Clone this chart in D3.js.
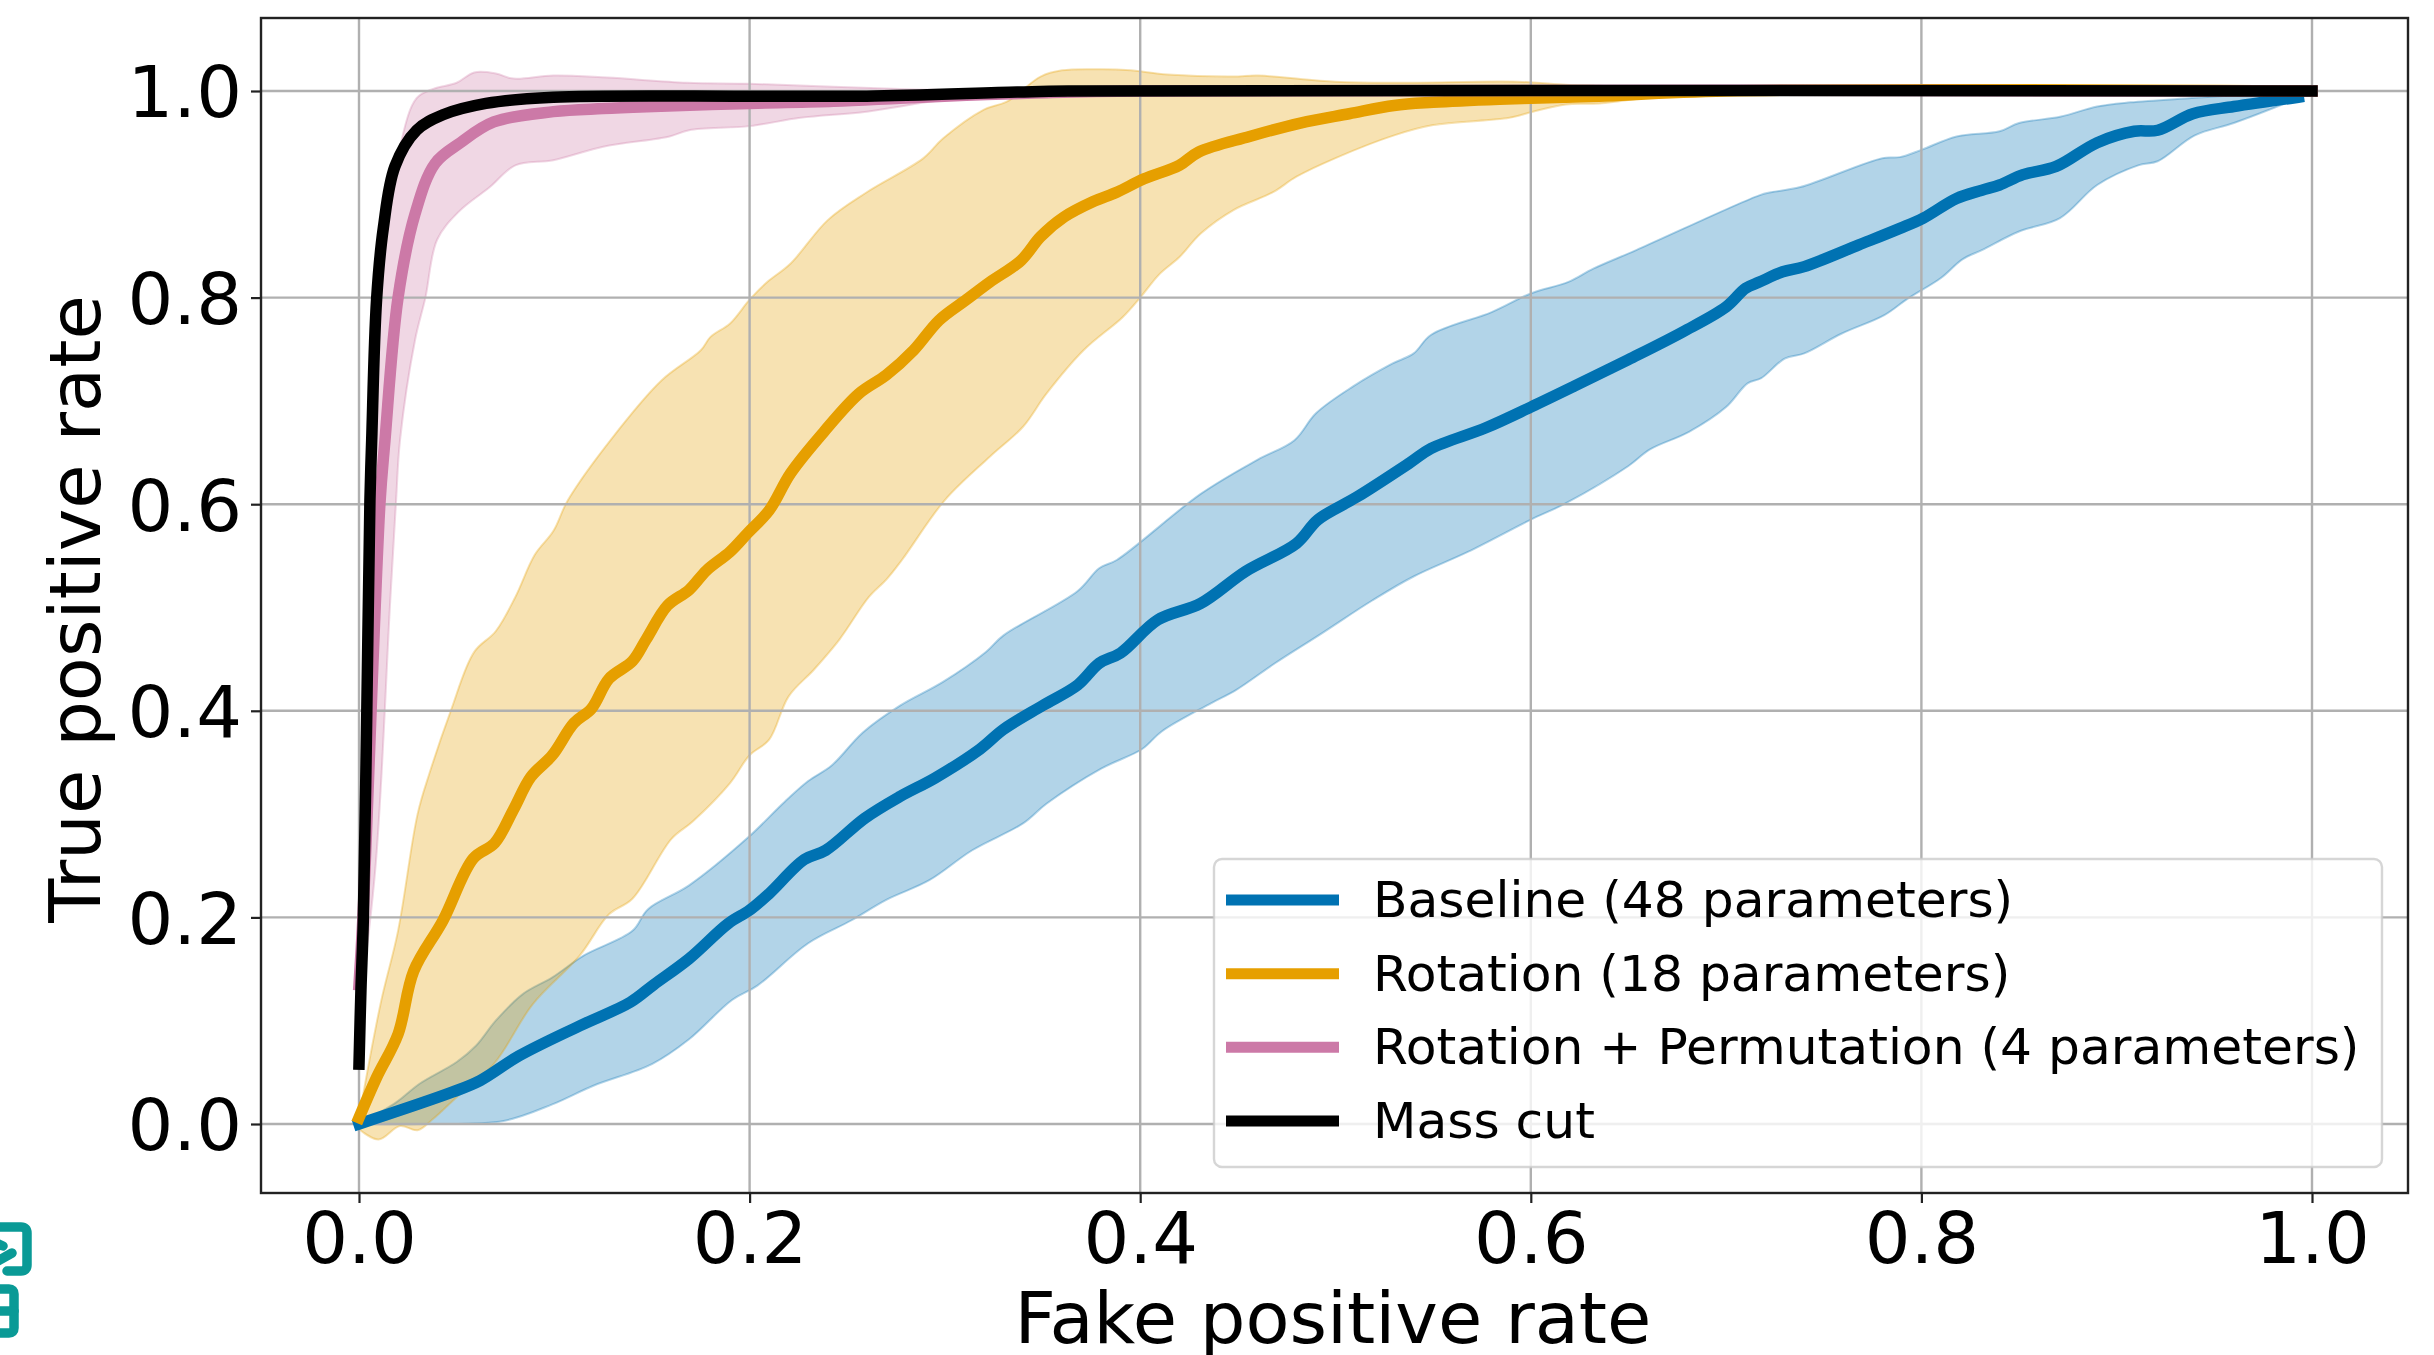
<!DOCTYPE html>
<html lang="en">
<head>
<meta charset="UTF-8">
<title>ROC curves</title>
<script src="https://d3js.org/d3.v7.min.js"></script>
<style>
    html, body { margin: 0; padding: 0; background: #fff; overflow: hidden; }
    svg { display: block; filter: blur(0.7px); }
    text { font-family: "DejaVu Sans", sans-serif; fill: #000; }
</style>
</head>
<body>
<div id="my_dataviz"></div>
<script>
// values, [fake positive rate, true positive rate]
var baselineMean = [[0,0],[.048,.031],[.062,.042],[.082,.066],[.113,.095],[.139,.118],[.151,.135],[.169,.160],[.189,.194],[.2,.207],[.21,.223],[.228,.256],[.239,.265],[.259,.296],[.277,.317],[.295,.335],[.318,.363],[.33,.382],[.35,.405],[.368,.425],[.379,.446],[.39,.456],[.409,.488],[.431,.504],[.454,.535],[.48,.562],[.491,.585],[.511,.607],[.538,.64],[.549,.654],[.577,.674],[.6,.694],[.622,.714],[.65,.74],[.678,.767],[.7,.791],[.71,.809],[.717,.815],[.729,.825],[.74,.83],[.768,.851],[.789,.867],[.801,.877],[.818,.896],[.831,.904],[.84,.909],[.852,.919],[.869,.927],[.89,.95],[.909,.961],[.921,.962],[.939,.978],[.96,.985],[.993,.994]];
var baselineUpper = [[0,0],[.019,.021],[.031,.039],[.05,.06],[.06,.076],[.07,.10],[.084,.126],[.099,.142],[.115,.163],[.14,.187],[.148,.208],[.169,.231],[.199,.277],[.218,.312],[.23,.332],[.242,.347],[.258,.379],[.277,.405],[.299,.428],[.321,.457],[.33,.473],[.368,.516],[.379,.538],[.388,.546],[.431,.61],[.46,.643],[.479,.662],[.49,.688],[.509,.714],[.529,.736],[.54,.746],[.549,.764],[.58,.786],[.6,.804],[.619,.815],[.632,.828],[.654,.846],[.717,.899],[.723,.902],[.738,.907],[.78,.935],[.789,.936],[.8,.943],[.818,.956],[.84,.961],[.85,.969],[.871,.975],[.89,.985],[.907,.989],[.937,.993],[.963,.996],[.993,.996]];
var baselineLower = [[0,0],[.034,0],[.074,.003],[.099,.019],[.12,.037],[.15,.058],[.169,.082],[.191,.12],[.204,.134],[.23,.175],[.252,.197],[.27,.217],[.292,.236],[.314,.265],[.34,.291],[.352,.31],[.38,.344],[.401,.363],[.411,.38],[.436,.407],[.449,.42],[.469,.446],[.493,.475],[.519,.507],[.54,.53],[.568,.554],[.6,.585],[.618,.601],[.65,.637],[.661,.653],[.681,.67],[.7,.694],[.711,.717],[.718,.722],[.73,.741],[.74,.746],[.759,.765],[.781,.783],[.793,.799],[.81,.819],[.821,.837],[.831,.846],[.85,.864],[.871,.877],[.89,.909],[.911,.928],[.921,.932],[.94,.957],[.96,.969],[.993,.993]];

var rotationMean = [[0,.006],[.009,.045],[.02,.087],[.028,.148],[.043,.197],[.0585,.257],[.0695,.272],[.079,.304],[.088,.336],[.099,.357],[.11,.388],[.119,.402],[.128,.431],[.14,.448],[.147,.469],[.158,.502],[.169,.517],[.178,.536],[.19,.554],[.199,.572],[.21,.594],[.221,.63],[.238,.67],[.256,.707],[.27,.725],[.284,.749],[.297,.778],[.311,.798],[.323,.815],[.339,.836],[.349,.859],[.361,.878],[.376,.893],[.388,.902],[.402,.915],[.42,.928],[.43,.941],[.456,.956],[.482,.969],[.507,.978],[.53,.986],[.55,.989],[.584,.992],[.618,.994],[.635,.995],[.7,1],[1,1]];
var rotationUpper = [[0,.006],[.011,.116],[.02,.187],[.03,.30],[.036,.339],[.047,.40],[.059,.457],[.07,.477],[.08,.51],[.09,.551],[.0995,.574],[.107,.604],[.13,.665],[.155,.72],[.175,.749],[.18,.762],[.19,.775],[.2,.798],[.209,.815],[.221,.833],[.24,.875],[.26,.902],[.289,.935],[.299,.954],[.32,.982],[.332,.99],[.349,1.014],[.36,1.02],[.38,1.021],[.395,1.02],[.414,1.016],[.448,1.014],[.46,1.015],[.5,1.009],[.533,1.008],[.593,1.009],[.618,1.006],[.635,1.005],[.67,1.001],[.7,1],[1,1]];
var rotationLower = [[0,-.005],[.01,-.015],[.021,-.002],[.03,-.006],[.038,.005],[.05,.026],[.069,.058],[.089,.116],[.113,.163],[.128,.203],[.14,.218],[.16,.276],[.171,.293],[.19,.33],[.2,.357],[.21,.372],[.22,.414],[.233,.44],[.246,.469],[.261,.51],[.27,.527],[.278,.546],[.3,.604],[.323,.646],[.34,.675],[.352,.707],[.371,.749],[.391,.781],[.4,.8],[.41,.823],[.42,.839],[.431,.862],[.448,.885],[.468,.902],[.48,.917],[.5,.935],[.53,.957],[.55,.967],[.589,.974],[.601,.98],[.618,.987],[.635,.988],[.67,.996],[.7,1],[1,1]];

var permutationMean = [[0,.135],[.002,.2],[.0107,.6],[.0133,.662],[.02,.80],[.0287,.881],[.039,.93],[.052,.95],[.069,.97],[.0995,.98],[.125,.983],[.151,.985],[.2,.988],[.243,.99],[.277,.993],[.311,.996],[.346,.998],[.4,1],[1,1]];
var permutationUpper = [[0,.16],[.005,.5],[.01,.8],[.021,.946],[.0295,.993],[.038,1.002],[.05,1.008],[.059,1.018],[.07,1.017],[.079,1.012],[.0995,1.015],[.127,1.013],[.168,1.008],[.2,1.007],[.243,1.004],[.277,1.002],[.33,1.0],[.4,1],[1,1]];
var permutationLower = [[0,.11],[.0085,.25],[.016,.507],[.019,.604],[.021,.662],[.0287,.759],[.034,.80],[.04,.856],[.051,.883],[.067,.907],[.08,.928],[.0995,.933],[.125,.946],[.159,.956],[.169,.962],[.2,.966],[.226,.974],[.26,.98],[.294,.99],[.32,.995],[.346,.998],[.4,1],[1,1]];

var massCut = [[0,.058],[.001,.13],[.0022,.197],[.004,.4],[.0056,.604],[.0065,.662],[.009,.798],[.0125,.868],[.0184,.927],[.0295,.962],[.043,.977],[.065,.988],[.0995,.994],[.2,.995],[.26,.995],[.337,.999],[.363,1],[1,1]];

var seriesNames = ["Baseline (48 parameters)", "Rotation (18 parameters)", "Rotation + Permutation (4 parameters)", "Mass cut"];
var seriesColors = ["#0072B2", "#E69F00", "#CC79A7", "#000000"];
var xTicks = [0, 0.2, 0.4, 0.6, 0.8, 1.0];
var yTicks = [0, 0.2, 0.4, 0.6, 0.8, 1.0];

var width = 2434, height = 1355;
var left = 261, right = 2408, top_ = 18, bottom = 1193;

var svg = d3.select("#my_dataviz").append("svg")
    .attr("width", width)
    .attr("height", height);

var x = d3.scaleLinear().domain([0, 1]).range([359, 2312]);
var y = d3.scaleLinear().domain([0, 1]).range([1124, 91]);

// the original curves have many more points, so round the read-off ones a bit
var line = d3.line()
    .curve(d3.curveCatmullRom.alpha(0.5))
    .x(function(d) { return x(d[0]); })
    .y(function(d) { return y(d[1]); });

svg.append("clipPath").attr("id", "plot_clip").append("rect")
    .attr("x", left).attr("y", top_).attr("width", right - left).attr("height", bottom - top_);

// bands first, then grid, then lines (same stacking as the original)
var plot = svg.append("g").attr("clip-path", "url(#plot_clip)");

var bands = [
    [baselineUpper, baselineLower],
    [rotationUpper, rotationLower],
    [permutationUpper, permutationLower]
];
bands.forEach(function(b, i) {
    plot.append("path")
        .attr("d", line(b[0]) + "L" + line(b[1].slice().reverse()).slice(1) + "Z")
        .attr("fill", seriesColors[i])
        .attr("fill-opacity", 0.3)
        .attr("stroke", seriesColors[i])
        .attr("stroke-opacity", 0.3)
        .attr("stroke-width", 2);
});

plot.selectAll(".gx").data(xTicks).enter().append("line")
    .attr("x1", function(d) { return x(d); }).attr("x2", function(d) { return x(d); })
    .attr("y1", top_).attr("y2", bottom)
    .attr("stroke", "#b0b0b0").attr("stroke-width", 2.4);
plot.selectAll(".gy").data(yTicks).enter().append("line")
    .attr("y1", function(d) { return y(d); }).attr("y2", function(d) { return y(d); })
    .attr("x1", left).attr("x2", right)
    .attr("stroke", "#b0b0b0").attr("stroke-width", 2.4);

[baselineMean, rotationMean, permutationMean, massCut].forEach(function(s, i) {
    plot.append("path")
        .attr("d", line(s))
        .attr("fill", "none")
        .attr("stroke", seriesColors[i])
        .attr("stroke-width", 11.5)
        .attr("stroke-linecap", "square")
        .attr("stroke-linejoin", "round");
});

// axes
var xAxis = svg.append("g")
    .attr("transform", "translate(0," + bottom + ")")
    .call(d3.axisBottom(x).tickValues(xTicks).tickFormat(d3.format(".1f")).tickSize(10).tickPadding(9));
var yAxis = svg.append("g")
    .attr("transform", "translate(" + left + ",0)")
    .call(d3.axisLeft(y).tickValues(yTicks).tickFormat(d3.format(".1f")).tickSize(10).tickPadding(9));
[xAxis, yAxis].forEach(function(a) {
    a.selectAll("text").style("font-size", "72px");
    a.selectAll("line").attr("stroke", "#222").attr("stroke-width", 2.2);
    a.select(".domain").remove();
    a.attr("font-family", null);
});
yAxis.selectAll("text").attr("dy", "0.36em");

svg.append("rect")
    .attr("x", left).attr("y", top_).attr("width", right - left).attr("height", bottom - top_)
    .attr("fill", "none").attr("stroke", "#222").attr("stroke-width", 2.4);

svg.append("text")
    .attr("x", 1333).attr("y", 1343)
    .attr("text-anchor", "middle")
    .style("font-size", "72px")
    .text("Fake positive rate");
svg.append("text")
    .attr("transform", "translate(100,609) rotate(-90)")
    .attr("text-anchor", "middle")
    .style("font-size", "72px")
    .text("True positive rate");

// legend
var legend = svg.append("g");
legend.append("rect")
    .attr("x", 1214).attr("y", 859).attr("width", 1168).attr("height", 308).attr("rx", 8)
    .attr("fill", "#fff").attr("fill-opacity", 0.8)
    .attr("stroke", "#ccc").attr("stroke-opacity", 0.8).attr("stroke-width", 2.4);
var legendY = d3.scalePoint().domain(seriesNames).range([900, 1121]);
seriesNames.forEach(function(name, i) {
    legend.append("line")
        .attr("x1", 1226).attr("x2", 1339)
        .attr("y1", legendY(name)).attr("y2", legendY(name))
        .attr("stroke", seriesColors[i]).attr("stroke-width", 11);
    legend.append("text")
        .attr("x", 1373).attr("y", legendY(name) + 17)
        .style("font-size", "50.3px")
        .text(name);
});

// piece of a logo cut off by the left page edge
var logo = svg.append("g").attr("fill", "none").attr("stroke", "#0A9A96").attr("stroke-width", 9.5).attr("stroke-linecap", "round");
logo.append("path").attr("d", "M-10,1227 H21 Q27,1227 27,1233 V1265 Q27,1271 21,1271 H7");
logo.append("path").attr("d", "M-4,1243 L3,1246");
logo.append("path").attr("d", "M-4,1262 L12,1253");
logo.append("path").attr("d", "M-10,1289 H9 Q14,1289 14,1294 V1328 Q14,1333 9,1333 H-10");
logo.append("path").attr("d", "M-10,1311 H14");
</script>
</body>
</html>
